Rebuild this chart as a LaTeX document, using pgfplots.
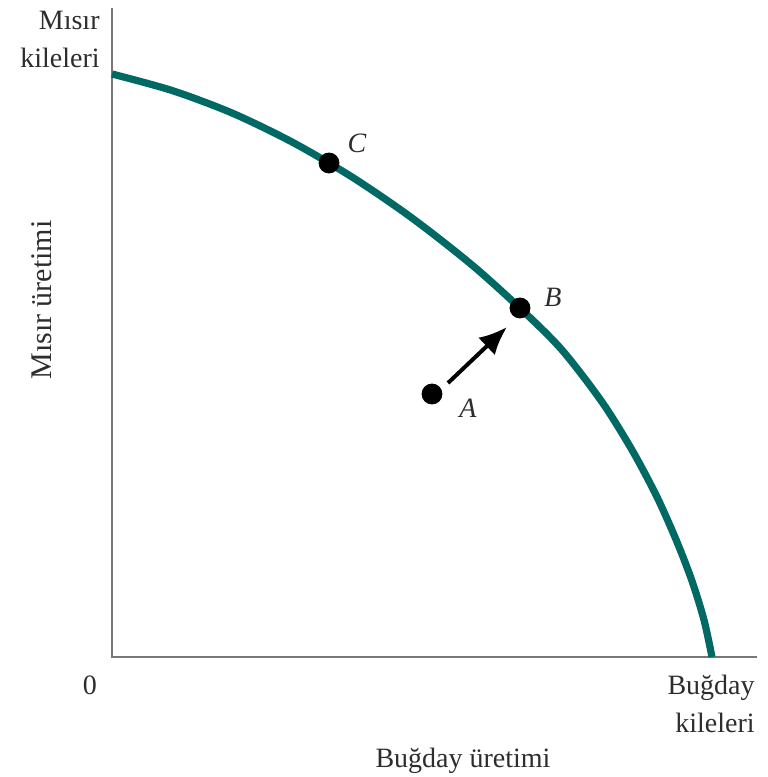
\documentclass[border=0pt]{standalone}
\usepackage{pgfplots}
\pgfplotsset{compat=1.18}
\usepackage{fontspec}
\setmainfont{Liberation Serif}
\usetikzlibrary{arrows.meta}
\definecolor{ppf}{RGB}{0,105,100}
\definecolor{axgray}{RGB}{120,120,120}
\definecolor{txt}{RGB}{45,45,45}
\begin{document}
\begin{tikzpicture}
\begin{axis}[
  x=0.5pt, y=0.5pt,
  xmin=-112, xmax=655, ymin=-120, ymax=657,
  hide axis, clip=false,
  scale only axis,
]
\path (axis cs:-112,-120) rectangle (axis cs:655,657);
% axes
\addplot[axgray, line width=1.1pt] coordinates {(0,649) (0,0) (645,0)};
% production possibility frontier
\addplot[ppf, line width=3.6pt, smooth, tension=0.5] coordinates {
(0,583) (60,566.5) (120,544) (180,515) (240,480) (300,439) (360,392)
(410,347) (450,307) (490,255) (520,207) (545,160) (565,115) (580,76)
(592,37) (600,0)};
% arrow A -> B
\addplot[black, line width=2pt, -{Latex[length=14pt,width=12pt]}] coordinates {(336,274) (395,330)};
% points
\addplot[only marks, mark=*, mark size=5pt, black] coordinates {(217,494) (408,349) (320,263)};
% point labels
\node[txt, font=\fontsize{14}{16}\selectfont\itshape] at (axis cs:245,514) {C};
\node[txt, font=\fontsize{14}{16}\selectfont\itshape] at (axis cs:441,360) {B};
\node[txt, font=\fontsize{14}{16}\selectfont\itshape] at (axis cs:356,249) {A};
% axis texts
\node[txt, font=\fontsize{14}{16}\selectfont, anchor=base east, inner sep=0pt] at (axis cs:-12,627) {Mısır};
\node[txt, font=\fontsize{14}{16}\selectfont, anchor=base east, inner sep=0pt] at (axis cs:-12,589) {kileleri};
\node[txt, font=\fontsize{14}{16}\selectfont, anchor=base east, inner sep=0pt] at (axis cs:643,-38) {Buğday};
\node[txt, font=\fontsize{14}{16}\selectfont, anchor=base east, inner sep=0pt] at (axis cs:643,-75) {kileleri};
\node[txt, font=\fontsize{14}{16}\selectfont, anchor=base, inner sep=0pt] at (axis cs:-22,-38) {0};
\node[txt, font=\fontsize{14}{16}\selectfont, anchor=base, inner sep=0pt] at (axis cs:351,-110) {Buğday üretimi};
\node[txt, font=\fontsize{15}{17}\selectfont, rotate=90, inner sep=0pt] at (axis cs:-70,357) {Mısır üretimi};
\end{axis}
\end{tikzpicture}
\end{document}
